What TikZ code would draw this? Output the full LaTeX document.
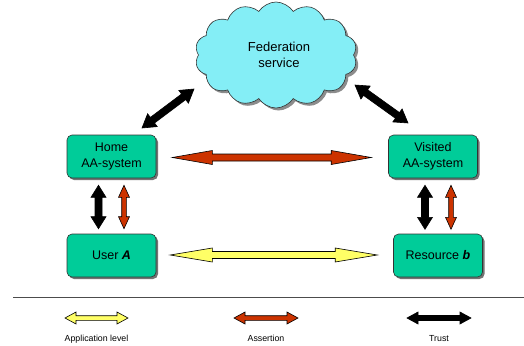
\documentclass[tikz,border=0pt]{standalone}
\usepackage{fontspec}
\setmainfont{Liberation Sans}
\usetikzlibrary{shapes.symbols,shadows,calc}
\definecolor{boxgreen}{RGB}{0,204,153}
\definecolor{cloudcyan}{RGB}{132,238,246}
\definecolor{assertred}{RGB}{204,51,0}
\definecolor{applyellow}{RGB}{255,255,102}
% \fatarrow{A}{B}{fill}{shaft half}{head half}{head length}
\newcommand\fatarrow[6]{%
  \coordinate (fa1) at ($(#1)!#6!(#2)$);
  \coordinate (fa2) at ($(#2)!#6!(#1)$);
  \draw[line width=0.6pt,line join=miter,fill=#3]
    (#1) -- ($(fa1)!#5!90:(#2)$) -- ($(fa1)!#4!90:(#2)$)
    -- ($(fa2)!#4!-90:(#1)$) -- ($(fa2)!#5!-90:(#1)$) -- (#2)
    -- ($(fa2)!#5!90:(#1)$) -- ($(fa2)!#4!90:(#1)$)
    -- ($(fa1)!#4!-90:(#2)$) -- ($(fa1)!#5!-90:(#2)$) -- cycle;}
\tikzset{
  aabox/.style={draw=black!80,line width=0.6pt,fill=boxgreen,rounded corners=5pt,
    minimum width=89pt,minimum height=43pt,align=center,font=\fontsize{12.5}{16}\selectfont,
    drop shadow={shadow xshift=2pt,shadow yshift=-2pt,fill=black!55,opacity=1}},
  legendtext/.style={font=\fontsize{8.8}{10}\selectfont,anchor=base}
}
\begin{document}
\begin{tikzpicture}[x=1pt,y=-1pt]
\useasboundingbox (0,0) rectangle (524,345);
% cloud
\node[cloud,cloud puffs=14,cloud puff arc=115,aspect=1.55,draw=black!80,line width=0.6pt,
  fill=cloudcyan,minimum width=162pt,minimum height=106pt,align=center,
  font=\fontsize{13}{16}\selectfont,
  drop shadow={shadow xshift=2.5pt,shadow yshift=-2.5pt,fill=black!45,opacity=1}]
  (fed) at (276,55) {\hspace*{6pt}Federation\\ \hspace*{6pt}service};
% boxes
\node[aabox] (home) at (111.5,156.5) {Home\\AA-system};
\node[aabox] (visited) at (433,156.5) {Visited\\AA-system};
\node[aabox] (user) at (111.5,255.5) {User \textbf{\textit{A}}};
\node[aabox] (res) at (438,255.5) {Resource \textbf{\textit{b}}};
% connector end points
\coordinate (d1a) at (142,128); \coordinate (d1b) at (194,89);
\coordinate (d2a) at (355,85);  \coordinate (d2b) at (408,123);
\coordinate (hra) at ($(home.east)+(16,1)$); \coordinate (hrb) at ($(visited.west)+(-17,1)$);
\coordinate (hya) at ($(user.east)+(14,-0.5)$); \coordinate (hyb) at ($(res.west)+(-16,-0.5)$);
\coordinate (lka) at ($(home.south)+(-13,7)$); \coordinate (lkb) at ($(user.north)+(-13,-5)$);
\coordinate (lra) at ($(home.south)+(12.5,7)$); \coordinate (lrb) at ($(user.north)+(12.5,-5)$);
\coordinate (rka) at ($(visited.south)+(-8,7)$); \coordinate (rkb) at ($(visited.south)+(-8,51)$);
\coordinate (rra) at ($(visited.south)+(18,7)$); \coordinate (rrb) at ($(visited.south)+(18,51)$);
% arrows
\fatarrow{d1a}{d1b}{black}{3.5pt}{8pt}{13pt}
\fatarrow{d2a}{d2b}{black}{3.5pt}{8pt}{13pt}
\fatarrow{hra}{hrb}{assertred}{3.5pt}{7pt}{40pt}
\fatarrow{hya}{hyb}{applyellow}{3.5pt}{7pt}{42pt}
\fatarrow{lka}{lkb}{black}{3.5pt}{7.5pt}{12pt}
\fatarrow{lra}{lrb}{assertred}{2.3pt}{5.5pt}{12pt}
\fatarrow{rka}{rkb}{black}{3.5pt}{7.5pt}{12pt}
\fatarrow{rra}{rrb}{assertred}{2.3pt}{5.5pt}{12pt}
% separator line
\coordinate (sepl) at (13,297); \coordinate (sepr) at (524,297);
\draw[line width=0.8pt,black!70] (sepl) -- (sepr);
% legend
\coordinate (ly1) at (65,318); \coordinate (ly2) at (128,318);
\coordinate (lr1) at (234,318); \coordinate (lr2) at (298,318);
\coordinate (lb1) at (407,318); \coordinate (lb2) at (471,318);
\fatarrow{ly1}{ly2}{applyellow}{2.3pt}{6pt}{11pt}
\fatarrow{lr1}{lr2}{assertred}{2.3pt}{6pt}{11pt}
\fatarrow{lb1}{lb2}{black}{2.5pt}{6pt}{11pt}
\node[legendtext] (t1) at (96.5,341) {Application level};
\node[legendtext] (t2) at (266,341) {Assertion};
\node[legendtext] (t3) at (439,341) {Trust};
\end{tikzpicture}
\end{document}
